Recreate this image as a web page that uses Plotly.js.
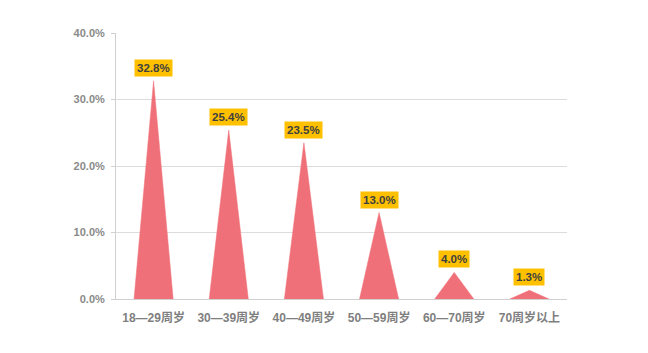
<!DOCTYPE html>
<html>
<head>
<meta charset="utf-8">
<script src="https://cdn.plot.ly/plotly-3.0.1.min.js"></script>
<style>html,body{margin:0;padding:0;background:#fff;}#chart{width:648px;height:353px;}</style>
</head>
<body>
<div id="chart"></div>
<script>
const categories = ["18—29周岁", "30—39周岁", "40—49周岁", "50—59周岁", "60—70周岁", "70周岁以上"];
const values = [32.8, 25.4, 23.5, 13.0, 4.0, 1.3];
const yTickVals = [0, 10, 20, 30, 40];
const yTickText = ["0.0%", "10.0%", "20.0%", "30.0%", "40.0%"];

const halfWidth = 0.26;
const traces = categories.map((c, i) => ({
  type: "scatter",
  mode: "lines",
  x: [i - halfWidth, i, i + halfWidth, i - halfWidth],
  y: [0, values[i], 0, 0],
  fill: "toself",
  fillcolor: "#F07079",
  line: {color: "#F07079", width: 0.5},
  hoverinfo: "skip",
  showlegend: false
}));

const annotations = categories.map((c, i) => ({
  x: i, y: values[i], xref: "x", yref: "y",
  text: "<b>" + values[i].toFixed(1) + "%</b>",
  showarrow: false,
  yanchor: "bottom",
  yshift: 4,
  bgcolor: "#FFC000",
  borderpad: 2,
  font: {family: "Arial, Liberation Sans, sans-serif", size: 11.5, color: "#404040"}
}));

const layout = {
  width: 648, height: 353,
  margin: {l: 116, r: 81, t: 33, b: 54},
  paper_bgcolor: "#ffffff",
  plot_bgcolor: "#ffffff",
  xaxis: {
    range: [-0.5, 5.5],
    tickvals: categories.map((c, i) => i),
    ticktext: categories,
    showgrid: false,
    zeroline: false,
    showline: true,
    linecolor: "#d0d0d0",
    linewidth: 1,
    ticks: "",
    ticklabelstandoff: 8,
    tickfont: {family: "Arial, 'Noto Sans CJK SC', sans-serif", size: 12, color: "#7f7f7f", weight: "bold"}
  },
  yaxis: {
    range: [0, 40],
    tickvals: yTickVals,
    ticktext: yTickText,
    showgrid: true,
    gridcolor: "#dcdcdc",
    gridwidth: 1,
    zeroline: false,
    showline: true,
    linecolor: "#d0d0d0",
    ticks: "outside",
    ticklen: 4,
    tickcolor: "#d0d0d0",
    ticklabelstandoff: 4,
    tickfont: {family: "Arial, Liberation Sans, sans-serif", size: 11, color: "#8a8a8a", weight: "bold"}
  },
  annotations: annotations,
  showlegend: false
};

Plotly.newPlot("chart", traces, layout, {displayModeBar: false, staticPlot: true});
</script>
</body>
</html>
